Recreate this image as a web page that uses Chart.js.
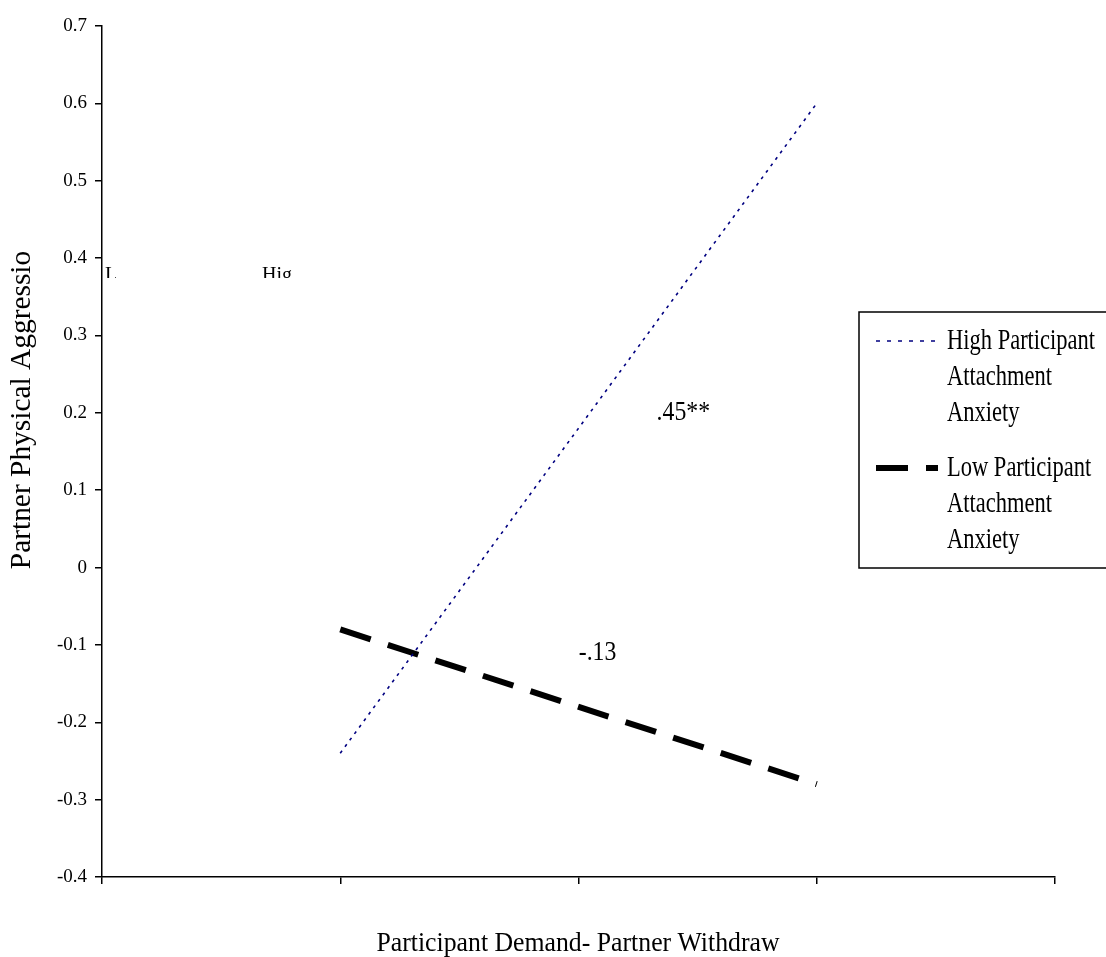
<!DOCTYPE html>
<html>
<head>
<meta charset="utf-8">
<script src="https://cdn.jsdelivr.net/npm/chart.js@4.4.1/dist/chart.umd.min.js"></script>
<style>
  html, body { margin: 0; padding: 0; background: #ffffff; }
  #wrap { width: 1106px; height: 957px; position: relative; }
</style>
</head>
<body>
<div id="wrap"><canvas id="c" width="1106" height="957"></canvas></div>
<script>
// ---- Data ----
const xPositions = [1, 3];               // low and high Participant Demand- Partner Withdraw
const highAnxiety = [-0.24, 0.60];       // High Participant Attachment Anxiety
const lowAnxiety = [-0.08, -0.28];       // Low Participant Attachment Anxiety
const seriesNames = ['High Participant Attachment Anxiety', 'Low Participant Attachment Anxiety'];
const legendLines = [['High Participant', 'Attachment', 'Anxiety'], ['Low Participant', 'Attachment', 'Anxiety']];
const slopeLabels = ['.45**', '-.13'];
const slopeLabelX = [2.44, 2.08];
const slopeLabelY = [0.20, -0.11];
const yMin = -0.4, yMax = 0.7, yStep = 0.1;
const xMin = 0, xMax = 4;
const xTitle = 'Participant Demand- Partner Withdraw';
const yTitle = 'Partner Physical Aggressio';

const FONT = '"Liberation Serif", "Times New Roman", serif';

const pts = (xs, ys) => xs.map((x, i) => ({ x: x, y: ys[i] }));

function drawText(ctx, text, x, y, size, sx, align) {
  ctx.save();
  ctx.translate(x, y);
  ctx.scale(sx, 1);
  ctx.font = size + 'px ' + FONT;
  ctx.textAlign = align;
  ctx.textBaseline = 'middle';
  ctx.fillStyle = '#000';
  ctx.fillText(text, 0, 0);
  ctx.restore();
}

const extras = {
  id: 'extras',
  afterDraw(chart) {
    const ctx = chart.ctx;
    const xs = chart.scales.x, ys = chart.scales.y;
    ctx.save();
    ctx.fillStyle = '#000';
    // slope labels
    slopeLabels.forEach((t, i) => {
      drawText(ctx, t, xs.getPixelForValue(slopeLabelX[i]), ys.getPixelForValue(slopeLabelY[i]), 27, 0.88, 'center');
    });
    // clipped text fragments
    ctx.save();
    ctx.beginPath();
    ctx.rect(103, 250, 400, 28);
    ctx.clip();
    ctx.textAlign = 'left';
    ctx.textBaseline = 'top';
    ctx.font = '20px ' + FONT;
    ctx.fillText('L', 105, 266);
    ctx.fillText('Hig', 262, 266);
    ctx.restore();
    // x-axis title
    drawText(ctx, xTitle, 578, 944, 28, 0.92, 'center');
    // y-axis title
    ctx.save();
    ctx.translate(22, 410);
    ctx.rotate(-Math.PI / 2);
    drawText(ctx, yTitle, 0, 0, 30, 0.98, 'center');
    ctx.restore();
    // legend
    const bx = 859, by = 312, bh = 256;
    ctx.lineWidth = 1.5;
    ctx.strokeStyle = '#000';
    ctx.strokeRect(bx, by, 1106 - bx + 5, bh);
    const ds = chart.data.datasets;
    const rowY = [341, 468];
    const sampleDash = [[4, 7], ds[1].borderDash];
    ds.forEach((d, i) => {
      ctx.save();
      ctx.strokeStyle = d.borderColor;
      ctx.lineWidth = d.borderWidth;
      ctx.setLineDash(sampleDash[i]);
      ctx.beginPath();
      ctx.moveTo(876, rowY[i]);
      ctx.lineTo(938, rowY[i]);
      ctx.stroke();
      ctx.restore();
      legendLines[i].forEach((line, j) => {
        drawText(ctx, line, 947, rowY[i] + j * 36, 30, 0.75, 'left');
      });
    });
    ctx.restore();
  }
};

new Chart(document.getElementById('c'), {
  type: 'scatter',
  data: {
    datasets: [
      {
        label: seriesNames[0],
        data: pts(xPositions, highAnxiety),
        showLine: true,
        borderColor: '#000080',
        backgroundColor: '#000080',
        borderWidth: 1.6,
        borderDash: [3, 5],
        pointRadius: 0,
        fill: false
      },
      {
        label: seriesNames[1],
        data: pts(xPositions, lowAnxiety),
        showLine: true,
        borderColor: '#000000',
        backgroundColor: '#000000',
        borderWidth: 6,
        borderDash: [32, 18],
        pointRadius: 0,
        fill: false
      }
    ]
  },
  options: {
    responsive: false,
    animation: false,
    events: [],
    layout: { padding: { top: 26, right: 51, left: 0, bottom: 0 } },
    plugins: { legend: { display: false }, tooltip: { enabled: false } },
    scales: {
      x: {
        type: 'linear',
        min: xMin, max: xMax,
        ticks: { stepSize: 1, callback: () => '', font: { family: FONT, size: 18 } },
        grid: { drawOnChartArea: false, drawTicks: true, tickLength: 7, color: '#000', lineWidth: 1.5 },
        border: { color: '#000', width: 1.5 },
        afterFit(scale) { scale.height = 80; }
      },
      y: {
        type: 'linear',
        min: yMin, max: yMax,
        ticks: {
          stepSize: yStep, color: '#000', padding: 8,
          font: { family: FONT, size: 19 },
          callback: (v) => { const r = Math.round(v * 10) / 10; return r === 0 ? '0' : r.toFixed(1); }
        },
        grid: { drawOnChartArea: false, drawTicks: true, tickLength: 7, color: '#000', lineWidth: 1.5 },
        border: { color: '#000', width: 1.5 },
        afterFit(scale) { scale.width = 102; }
      }
    }
  },
  plugins: [extras]
});
</script>
</body>
</html>
